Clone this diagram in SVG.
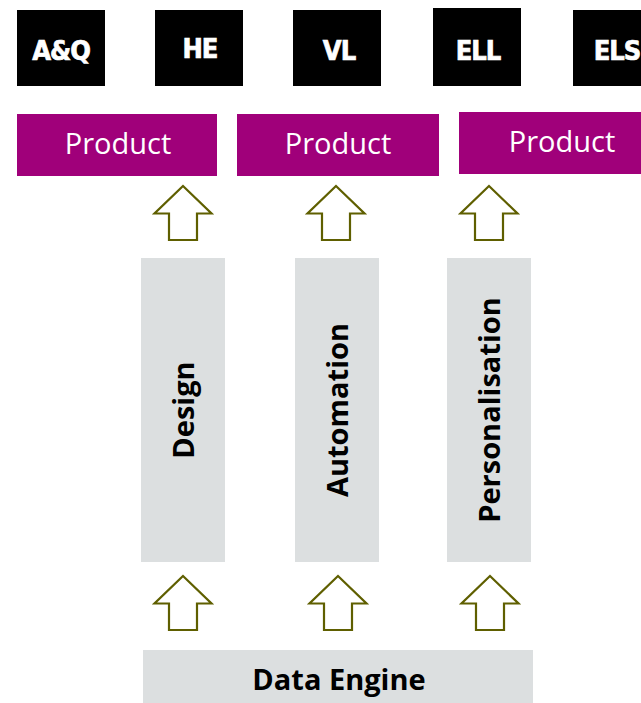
<svg xmlns="http://www.w3.org/2000/svg" xmlns:xlink="http://www.w3.org/1999/xlink" width="641" height="703" viewBox="0 0 641 703">
  <style>
    .brand rect { fill: #000000; }
    .brand text { fill: #ffffff; stroke: #ffffff; stroke-width: 0.7; font-family: "DejaVu Sans Condensed", "DejaVu Sans", sans-serif; font-stretch: condensed; font-weight: bold; font-size: 27px; letter-spacing: -1px; text-anchor: middle; }
    .product rect { fill: #a0007a; }
    .product text { fill: #ffffff; font-family: "Open Sans", "Liberation Sans", sans-serif; font-size: 29px; text-anchor: middle; }
    .pillar rect, .base rect { fill: #dcdfe0; }
    .pillar text, .base text { fill: #000000; font-family: "Open Sans", "Liberation Sans", sans-serif; font-weight: bold; font-size: 29px; text-anchor: middle; }
    .block-arrow { fill: #ffffff; stroke: #5f5f00; stroke-width: 2.2; stroke-linejoin: miter; }
  </style>
  <defs>
    <!-- hollow block arrow, tip at the origin -->
    <path id="up-arrow" class="block-arrow" d="M0,0 L28.5,27.5 L14,27.5 L14,54 L-14,54 L-14,27.5 L-28.5,27.5 Z"/>
  </defs>

  <rect width="641" height="703" fill="#ffffff"/>

  <!-- brand tiles -->
  <g id="brand-aq" class="brand"><rect x="17" y="10" width="88" height="76"/><text x="61" y="60">A&amp;Q</text></g>
  <g id="brand-he" class="brand"><rect x="155" y="10" width="88" height="76"/><text x="200" y="58">HE</text></g>
  <g id="brand-vl" class="brand"><rect x="293" y="10" width="88" height="76"/><text x="339" y="60">VL</text></g>
  <g id="brand-ell" class="brand"><rect x="433" y="8" width="88" height="78"/><text x="478" y="60">ELL</text></g>
  <g id="brand-els" class="brand"><rect x="573" y="10" width="88" height="76"/><text x="617" y="60">ELS</text></g>

  <!-- product bars -->
  <g id="product-1" class="product"><rect x="17" y="114" width="200" height="62"/><text x="118" y="154">Product</text></g>
  <g id="product-2" class="product"><rect x="237" y="114" width="202" height="62"/><text x="338" y="154">Product</text></g>
  <g id="product-3" class="product"><rect x="459" y="112" width="205" height="62"/><text x="562" y="152">Product</text></g>

  <!-- pillars -->
  <g id="pillar-design" class="pillar"><rect x="141" y="258" width="84" height="304"/><text transform="translate(183,410) rotate(-90)" y="10.5">Design</text></g>
  <g id="pillar-automation" class="pillar"><rect x="295" y="258" width="84" height="304"/><text transform="translate(337,410) rotate(-90)" y="10.5">Automation</text></g>
  <g id="pillar-personalisation" class="pillar"><rect x="447" y="258" width="84" height="304"/><text transform="translate(489,410) rotate(-90)" y="10.5">Personalisation</text></g>

  <!-- foundation -->
  <g id="data-engine" class="base"><rect x="143" y="650" width="390" height="53"/><text x="339" y="690">Data Engine</text></g>

  <!-- connectors: block arrows -->
  <g id="connectors">
    <use xlink:href="#up-arrow" x="183" y="186"/>
    <use xlink:href="#up-arrow" x="336" y="186"/>
    <use xlink:href="#up-arrow" x="489" y="186"/>
    <use xlink:href="#up-arrow" x="183" y="576"/>
    <use xlink:href="#up-arrow" x="338" y="576"/>
    <use xlink:href="#up-arrow" x="490" y="576"/>
  </g>
</svg>
